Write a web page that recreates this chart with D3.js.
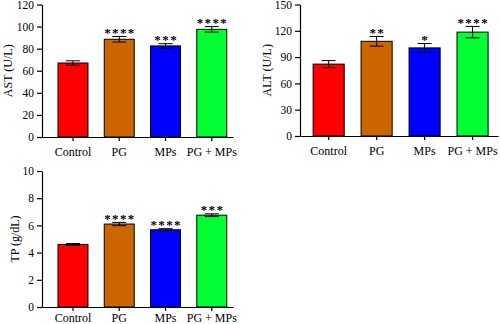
<!DOCTYPE html>
<html>
<head>
<meta charset="utf-8">
<script src="https://cdn.jsdelivr.net/npm/d3@7"></script>
<style>
  body { margin: 0; background: #fff; }
  svg { display: block; }
  text { font-family: "Liberation Serif", "DejaVu Serif", serif; fill: #000; }
</style>
</head>
<body>
<svg id="chart" width="500" height="324"></svg>
<script>
// groups shared by all three panels
const groups = ["Control", "PG", "MPs", "PG + MPs"];
const barColors = ["#ff0000", "#cc6600", "#0000ff", "#00ff33"];

// AST (U/L)
const astMean = [67, 88.5, 82.5, 97.5];
const astErr = [2, 2.5, 2, 2.5];
const astStars = ["", "****", "***", "****"];
const astTicks = [0, 20, 40, 60, 80, 100, 120];

// ALT (U/L)
const altMean = [82, 108, 100.5, 118.5];
const altErr = [4, 5.5, 5, 6.5];
const altStars = ["", "**", "*", "****"];
const altTicks = [0, 30, 60, 90, 120, 150];

// TP (g/dL)
const tpMean = [4.6, 6.1, 5.68, 6.75];
const tpErr = [0.07, 0.12, 0.08, 0.1];
const tpStars = ["", "****", "****", "***"];
const tpTicks = [0, 2, 4, 6, 8, 10];

const svg = d3.select("#chart");

function drawPanel(p) {
    const g = svg.append("g");

    const x = d3.scaleBand()
        .domain(groups)
        .range([p.left, p.right])
        .paddingInner(0.352)
        .paddingOuter(0.24)
        .align(p.align);

    const y = d3.scaleLinear()
        .domain([0, p.ticks[p.ticks.length - 1]])
        .range([p.bottom, p.top]);

    const rows = groups.map(function (k, i) {
        return { key: k, mean: p.mean[i], err: p.err[i], star: p.stars[i], color: barColors[i] };
    });

    const cx = function (d) { return x(d.key) + x.bandwidth() / 2; };

    // bars
    g.append("g").selectAll("rect")
        .data(rows)
        .enter()
        .append("rect")
        .attr("x", function (d) { return x(d.key); })
        .attr("y", function (d) { return y(d.mean); })
        .attr("width", x.bandwidth())
        .attr("height", function (d) { return y(0) - y(d.mean); })
        .attr("fill", function (d) { return d.color; })
        .attr("stroke", "#000")
        .attr("stroke-width", 1);

    // error bars
    const eb = g.append("g").selectAll("g")
        .data(rows)
        .enter()
        .append("g")
        .attr("stroke", "#000")
        .attr("stroke-width", 1);

    eb.append("line")
        .attr("x1", cx)
        .attr("x2", cx)
        .attr("y1", function (d) { return y(d.mean - d.err); })
        .attr("y2", function (d) { return y(d.mean + d.err); });

    [1, -1].forEach(function (s) {
        eb.append("line")
            .attr("x1", function (d) { return cx(d) - 7; })
            .attr("x2", function (d) { return cx(d) + 7; })
            .attr("y1", function (d) { return y(d.mean + s * d.err); })
            .attr("y2", function (d) { return y(d.mean + s * d.err); });
    });

    // significance stars
    g.append("g").selectAll("text")
        .data(rows)
        .enter()
        .append("text")
        .attr("x", function (d) { return cx(d) + 0.7; })
        .attr("y", function (d) { return y(d.mean + d.err) + 0.5; })
        .attr("text-anchor", "middle")
        .attr("font-size", "13px")
        .attr("font-weight", "bold")
        .attr("letter-spacing", "1.4px")
        .text(function (d) { return d.star; });

    // y axis
    const ya = g.append("g")
        .attr("transform", "translate(" + p.left + ",0)")
        .call(d3.axisLeft(y).tickValues(p.ticks).tickSize(5).tickSizeOuter(0).tickPadding(3));
    ya.selectAll("text").attr("font-size", "11.5px");

    // x axis
    const xa = g.append("g")
        .attr("transform", "translate(0," + p.bottom + ")")
        .call(d3.axisBottom(x).tickSize(4).tickSizeOuter(0).tickPadding(p.xPad));
    xa.selectAll("text").attr("font-size", "12px");

    [ya, xa].forEach(function (a) {
        a.select(".domain").attr("stroke-width", 1.2);
        a.selectAll(".tick line").attr("stroke-width", 1.2);
    });

    // y axis title
    g.append("text")
        .attr("transform", "translate(" + p.labelX + "," + ((p.top + p.bottom) / 2) + ") rotate(-90)")
        .attr("text-anchor", "middle")
        .attr("dominant-baseline", "central")
        .attr("font-size", "12px")
        .text(p.label);
}

drawPanel({ left: 42, right: 233, top: 4.5, bottom: 137, align: 0.72, xPad: 6,
    mean: astMean, err: astErr, stars: astStars, ticks: astTicks, label: "AST (U/L)", labelX: 8 });

drawPanel({ left: 300, right: 498, top: 4.5, bottom: 136, align: 0.57, xPad: 6,
    mean: altMean, err: altErr, stars: altStars, ticks: altTicks, label: "ALT (U/L)", labelX: 267 });

drawPanel({ left: 42, right: 233, top: 171, bottom: 307, align: 0.72, xPad: 2,
    mean: tpMean, err: tpErr, stars: tpStars, ticks: tpTicks, label: "TP (g/dL)", labelX: 15 });
</script>
</body>
</html>
